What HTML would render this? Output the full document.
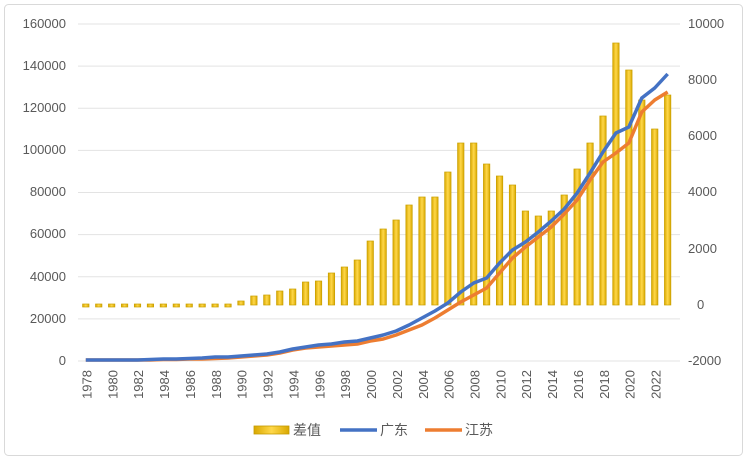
<!DOCTYPE html>
<html><head><meta charset="utf-8"><style>
body{margin:0;background:#fff;}
svg{display:block;font-family:"Liberation Sans","Noto Sans CJK SC",sans-serif;}
</style></head><body>
<svg id="s" width="747" height="467" viewBox="0 0 747 467">
<defs>
<linearGradient id="g" x1="0" x2="1" y1="0" y2="0">
<stop offset="0" stop-color="#d9a800"/><stop offset="0.5" stop-color="#ffd84a"/><stop offset="1" stop-color="#d9a800"/>
</linearGradient>
</defs>
<rect x="4.5" y="4.5" width="738" height="451" rx="4" fill="#fff" stroke="#d9d9d9"/>
<g id="grid" stroke="#e3e3e3" stroke-width="1"></g>
<g id="bars"></g>
<polyline id="jl" fill="none" stroke="#ed7d31" stroke-width="3.5" stroke-linejoin="round"/>
<polyline id="gl" fill="none" stroke="#4472c4" stroke-width="3.5" stroke-linejoin="round"/>
<g font-size="13" fill="#595959" text-anchor="end">
<text x="66" y="28">160000</text><text x="66" y="70">140000</text><text x="66" y="112">120000</text>
<text x="66" y="154">100000</text><text x="66" y="196">80000</text><text x="66" y="238">60000</text>
<text x="66" y="281">40000</text><text x="66" y="323">20000</text><text x="66" y="365">0</text>
</g>
<g font-size="13" fill="#595959" text-anchor="start">
<text x="688" y="28">10000</text><text x="688" y="84">8000</text><text x="688" y="140">6000</text>
<text x="688" y="196">4000</text><text x="688" y="253">2000</text><text x="697" y="309">0</text>
<text x="688" y="365">-2000</text>
</g>
<g font-size="13" fill="#595959" text-anchor="end">
<text transform="translate(91.5,370) rotate(-90)">1978</text>
<text transform="translate(117.4,370) rotate(-90)">1980</text>
<text transform="translate(143.2,370) rotate(-90)">1982</text>
<text transform="translate(169.1,370) rotate(-90)">1984</text>
<text transform="translate(195,370) rotate(-90)">1986</text>
<text transform="translate(220.8,370) rotate(-90)">1988</text>
<text transform="translate(246.7,370) rotate(-90)">1990</text>
<text transform="translate(272.6,370) rotate(-90)">1992</text>
<text transform="translate(298.4,370) rotate(-90)">1994</text>
<text transform="translate(324.3,370) rotate(-90)">1996</text>
<text transform="translate(350.2,370) rotate(-90)">1998</text>
<text transform="translate(376,370) rotate(-90)">2000</text>
<text transform="translate(401.9,370) rotate(-90)">2002</text>
<text transform="translate(427.8,370) rotate(-90)">2004</text>
<text transform="translate(453.6,370) rotate(-90)">2006</text>
<text transform="translate(479.5,370) rotate(-90)">2008</text>
<text transform="translate(505.4,370) rotate(-90)">2010</text>
<text transform="translate(531.2,370) rotate(-90)">2012</text>
<text transform="translate(557.1,370) rotate(-90)">2014</text>
<text transform="translate(583,370) rotate(-90)">2016</text>
<text transform="translate(608.8,370) rotate(-90)">2018</text>
<text transform="translate(634.7,370) rotate(-90)">2020</text>
<text transform="translate(660.6,370) rotate(-90)">2022</text>
</g>
<rect x="254" y="426" width="35" height="8" fill="url(#g)" stroke="#c49a00" stroke-width="0.8"/>
<text x="293" y="435" font-size="14" fill="#595959">差值</text>
<line x1="340" y1="430" x2="377" y2="430" stroke="#4472c4" stroke-width="3.5"/>
<text x="380" y="435" font-size="14" fill="#595959">广东</text>
<line x1="425" y1="430" x2="462" y2="430" stroke="#ed7d31" stroke-width="3.5"/>
<text x="465" y="435" font-size="14" fill="#595959">江苏</text>
</svg>
<script>
var ns="http://www.w3.org/2000/svg";
var grid=document.getElementById('grid');
for(var k=0;k<9;k++){var y=361-k*42.125;var l=document.createElementNS(ns,'line');l.setAttribute('x1',78);l.setAttribute('x2',680);l.setAttribute('y1',y);l.setAttribute('y2',y);grid.appendChild(l);}
var tops=[304,304,304,304,304,304,304,304,304,304,304,304,301,296,295,291,289,282,281,273,267,260,241,229,220,205,197,197,172,143,143,164,176,185,211,216,211,195,169,143,116,43,70,100,129,95];
var blue=[360,360,360,360,360,359.5,359,359,358.5,358,357,357,356,355,354,352,349,347,345,344,342,341,338,335,331,325,318,311,303,292,283,278,263,250,242,232,221,209,193,173,152,133,127,98,88,74];
var orng=[360,360,360,360,360,360,359.5,359.5,359,359,358.5,358,357,356,355,353,350,348,347,346,345,344,341,339,335,330,325,318,310,302,295,288,273,258,247,237,227,214,200,180,162,153,143,112,100,92];
var bars=document.getElementById('bars');var pb='',po='';
for(var i=0;i<46;i++){var x=85.8+i*12.93;
var t=tops[i],h=Math.max(305-t,3);if(i<12){t=304;h=3;}
var r=document.createElementNS(ns,'rect');r.setAttribute('x',x-3.2);r.setAttribute('y',t);r.setAttribute('width',6.4);r.setAttribute('height',h);
r.setAttribute('fill','url(#g)');r.setAttribute('stroke','#c9a000');r.setAttribute('stroke-width','0.7');bars.appendChild(r);
pb+=x+','+blue[i]+' ';po+=x+','+orng[i]+' ';}
document.getElementById('gl').setAttribute('points',pb);
document.getElementById('jl').setAttribute('points',po);
</script>
</body></html>
